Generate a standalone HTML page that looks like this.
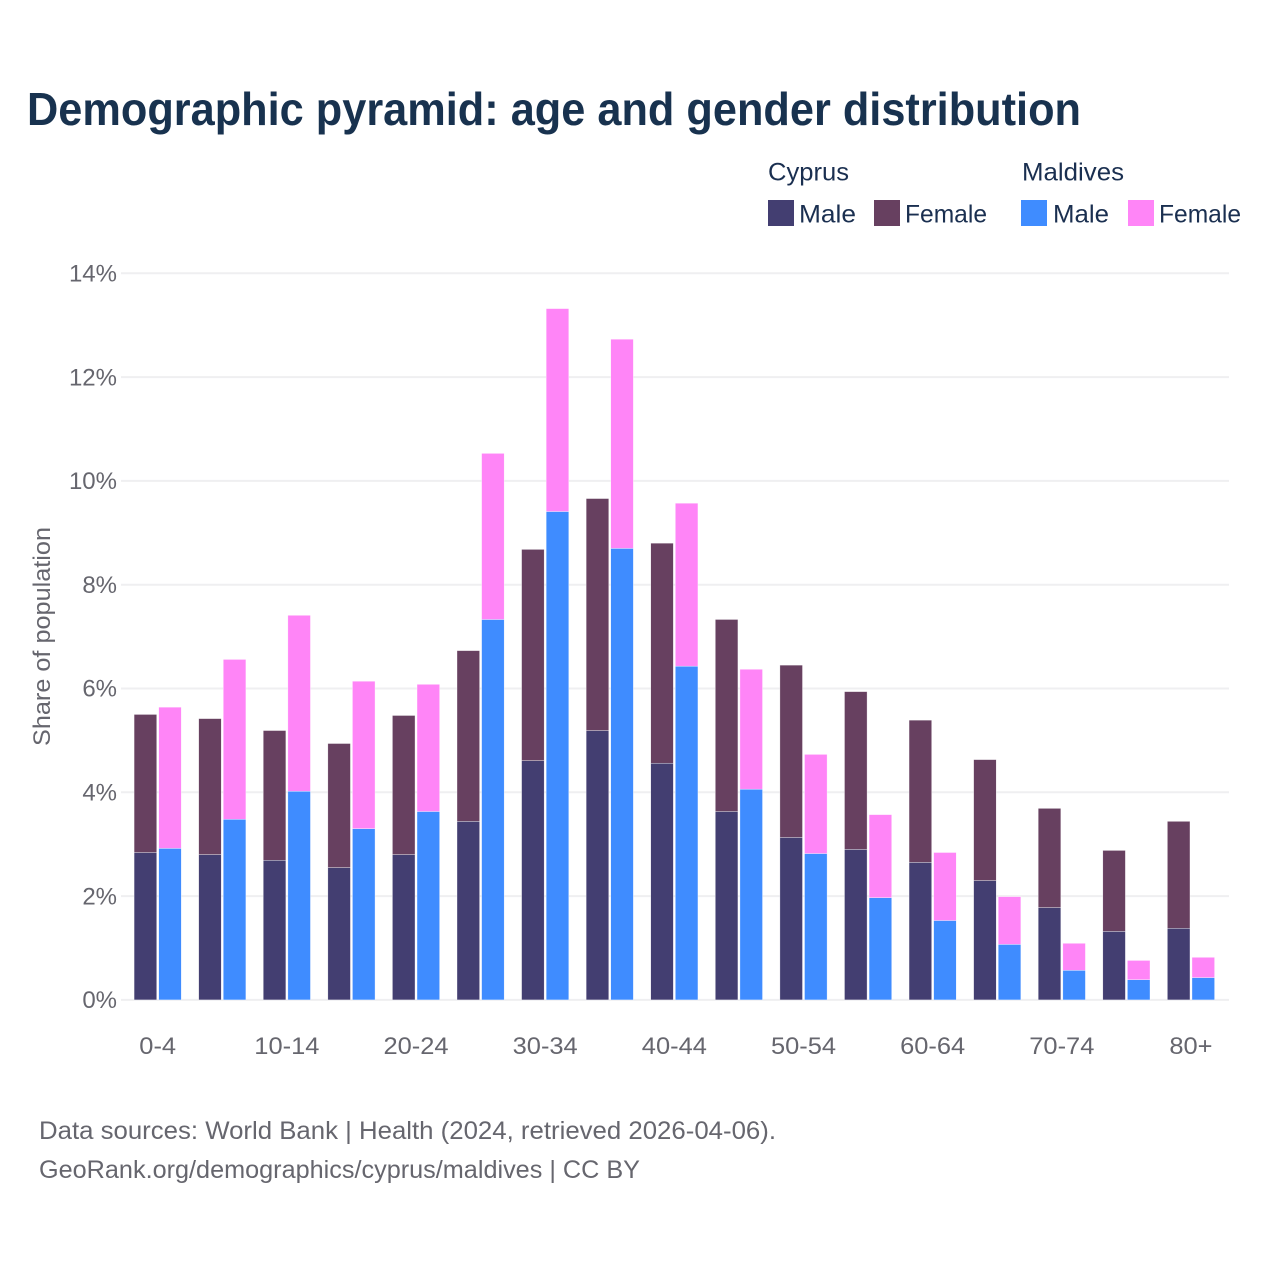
<!DOCTYPE html>
<html lang="en">
<head>
<meta charset="utf-8">
<title>Demographic pyramid: age and gender distribution</title>
<style>
html,body{margin:0;padding:0;background:#fff;width:1280px;height:1280px;overflow:hidden}
svg{display:block;font-family:"Liberation Sans",sans-serif}
.tick{font-size:24px;fill:#66666e}
.leg{font-size:25px;fill:#1a2f50}
.foot{font-size:25px;fill:#66666e}
</style>
</head>
<body>
<svg id="chart" xmlns="http://www.w3.org/2000/svg" width="1280" height="1280" viewBox="0 0 1280 1280">
  <rect x="0" y="0" width="1280" height="1280" fill="#ffffff"/>
  <text x="27" y="125" font-size="46" font-weight="700" fill="#18324f" textLength="1054" lengthAdjust="spacingAndGlyphs">Demographic pyramid: age and gender distribution</text>

  <g>
    <text class="leg" x="768" y="180.5" textLength="81" lengthAdjust="spacingAndGlyphs">Cyprus</text>
    <text class="leg" x="1022" y="180.5" textLength="102" lengthAdjust="spacingAndGlyphs">Maldives</text>
    <rect x="768" y="200" width="26" height="26" fill="#433e71"/>
    <text class="leg" x="799" y="222.5" textLength="57" lengthAdjust="spacingAndGlyphs">Male</text>
    <rect x="874" y="200" width="26" height="26" fill="#674060"/>
    <text class="leg" x="905" y="222.5" textLength="82" lengthAdjust="spacingAndGlyphs">Female</text>
    <rect x="1021" y="200" width="26" height="26" fill="#3f8cff"/>
    <text class="leg" x="1053" y="222.5" textLength="56" lengthAdjust="spacingAndGlyphs">Male</text>
    <rect x="1128" y="200" width="26" height="26" fill="#ff85f7"/>
    <text class="leg" x="1159" y="222.5" textLength="82" lengthAdjust="spacingAndGlyphs">Female</text>
  </g>

  <g id="grid"></g>
  <g id="yticks"></g>
  <g id="bars"></g>
  <g id="xticks"></g>

  <text class="tick" transform="translate(50,746) rotate(-90)" x="0" y="0" textLength="219" lengthAdjust="spacingAndGlyphs">Share of population</text>

  <text class="foot" x="39" y="1139" textLength="737" lengthAdjust="spacingAndGlyphs">Data sources: World Bank | Health (2024, retrieved 2026-04-06).</text>
  <text class="foot" x="39" y="1178" textLength="601" lengthAdjust="spacingAndGlyphs">GeoRank.org/demographics/cyprus/maldives | CC BY</text>
</svg>
<script>
const categories = ['0-4','5-9','10-14','15-19','20-24','25-29','30-34','35-39','40-44','45-49','50-54','55-59','60-64','65-69','70-74','75-79','80+'];
const cyprusMale = [2.84,2.80,2.69,2.55,2.80,3.44,4.61,5.19,4.56,3.63,3.13,2.90,2.65,2.30,1.78,1.32,1.38];
const cyprusFemale = [2.66,2.62,2.50,2.39,2.68,3.29,4.07,4.47,4.24,3.70,3.32,3.04,2.74,2.33,1.91,1.56,2.06];
const maldivesMale = [2.92,3.48,4.02,3.30,3.63,7.33,9.41,8.70,6.43,4.06,2.82,1.97,1.53,1.07,0.57,0.39,0.43];
const maldivesFemale = [2.72,3.08,3.39,2.84,2.45,3.20,3.91,4.03,3.14,2.31,1.91,1.60,1.31,0.92,0.52,0.37,0.39];
const yTickValues = [0,2,4,6,8,10,12,14];
const xLabelEvery = 2;

const NS = 'http://www.w3.org/2000/svg';
const yBase = 999.9, yPerUnit = 51.9;
const xStart = 157.7, xStep = 64.58, barW = 22.6, barGap = 2.0;
const yScale = v => yBase - v * yPerUnit;
const xScale = i => xStart + i * xStep;

function make(tag, parent, attrs) {
  const el = document.createElementNS(NS, tag);
  Object.keys(attrs).forEach(k => el.setAttribute(k, attrs[k]));
  parent.appendChild(el);
  return el;
}

const grid = document.getElementById('grid');
const yticks = document.getElementById('yticks');
yTickValues.forEach(v => {
  const line = make('line', grid, {x1: 121, x2: 1229, y1: yScale(v), y2: yScale(v), stroke: '#efeff1', 'stroke-width': 2});
  
  
  const label = make('text', yticks, {class: 'tick', x: 117, y: yScale(v) + 8.2, 'text-anchor': 'end'});
  label.textContent = v + '%';
  
  
});

function segment(parent, x, v0, v1, fill) {
  const top = yScale(v0 + v1), bottom = yScale(v0);
  const r = make('rect', parent, {x: x, y: top, width: barW, height: bottom - top, fill: fill, stroke: '#ffffff', 'stroke-width': 0.5, 'stroke-opacity': 0.7});
  return r;
}

const bars = document.getElementById('bars');
const xticks = document.getElementById('xticks');
categories.forEach((cat, i) => {
  const cx = xScale(i);
  const xa = cx - barW - barGap / 2, xb = cx + barGap / 2;
  const a = segment(bars, xa, 0, cyprusMale[i], '#433e71');
  
  
  const b = segment(bars, xa, cyprusMale[i], cyprusFemale[i], '#674060');
  
  
  const c = segment(bars, xb, 0, maldivesMale[i], '#3f8cff');
  
  
  const d = segment(bars, xb, maldivesMale[i], maldivesFemale[i], '#ff85f7');
  
  
  if (i % xLabelEvery === 0) {
    const t = make('text', xticks, {class: 'tick', x: cx, y: 1054, 'text-anchor': 'middle'});
    t.textContent = cat;
    
    
    t.setAttribute('textLength', t.getComputedTextLength() * 1.06);
    t.setAttribute('lengthAdjust', 'spacingAndGlyphs');
  }
});
</script>
</body>
</html>
